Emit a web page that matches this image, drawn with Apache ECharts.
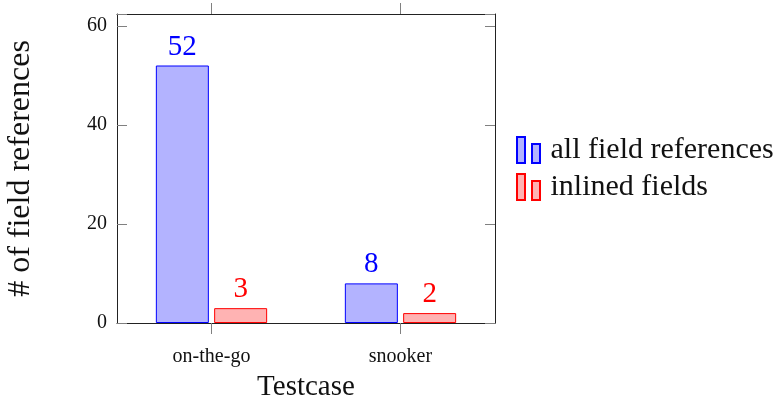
<!DOCTYPE html>
<html>
<head>
<meta charset="utf-8">
<script src="https://cdn.jsdelivr.net/npm/echarts@6/dist/echarts.min.js"></script>
<style>
html,body{margin:0;padding:0;background:#fff;}
#chart{width:779px;height:400px;}
</style>
</head>
<body>
<div id="chart"></div>
<script>
var categories = ['on-the-go', 'snooker'];
var allFieldRefs = [52, 8];
var inlinedFields = [3, 2];
var seriesNames = ['all field references', 'inlined fields'];
var yTicks = [0, 20, 40, 60];

var FONT = '"Liberation Serif", "Times New Roman", serif';
var legendIcon = 'path://M0,0h8v26h-8zM15,7h8v19h-8z';

var chart = echarts.init(document.getElementById('chart'), null, {renderer: 'canvas'});

var xCommon = {
  type: 'category',
  data: categories,
  axisLine: {show: true, onZero: false, lineStyle: {color: '#222', width: 1}},
  axisTick: {show: true, inside: false, length: 11, alignWithLabel: true, lineStyle: {color: '#808080'}},
  splitLine: {show: false}
};
var yCommon = {
  type: 'value',
  min: 0,
  max: 62.4,
  interval: 20,
  axisLine: {show: true, onZero: false, lineStyle: {color: '#222', width: 1}},
  axisTick: {show: true, inside: true, length: 10, lineStyle: {color: '#808080'}},
  splitLine: {show: false}
};

var option = {
  animation: false,
  backgroundColor: '#fff',
  textStyle: {fontFamily: FONT},
  grid: {left: 117, right: 284, top: 14, bottom: 77, show: false, containLabel: false, outerBoundsMode: 'none'},
  legend: {
    orient: 'vertical',
    left: 511,
    top: 130,
    itemWidth: 24,
    itemHeight: 26,
    itemGap: 7,
    icon: legendIcon,
    textStyle: {fontFamily: FONT, fontSize: 30, color: '#111', padding: [0, 0, 0, 5]},
    data: seriesNames
  },
  xAxis: [
    Object.assign({}, xCommon, {
      position: 'bottom',
      name: 'Testcase',
      nameLocation: 'middle',
      nameGap: 50,
      nameTextStyle: {fontFamily: FONT, fontSize: 29, color: '#111'},
      axisLabel: {fontFamily: FONT, fontSize: 20, color: '#111', margin: 24}
    }),
    Object.assign({}, xCommon, {
      position: 'top',
      axisLabel: {show: false}
    })
  ],
  yAxis: [
    Object.assign({}, yCommon, {
      position: 'left',
      name: '# of field references',
      nameLocation: 'middle',
      nameGap: 80,
      nameTextStyle: {fontFamily: FONT, fontSize: 32, color: '#111'},
      axisLabel: {fontFamily: FONT, fontSize: 20, color: '#111', margin: 10,
        formatter: function (v) { return yTicks.indexOf(v) >= 0 ? String(v) : ''; }}
    }),
    Object.assign({}, yCommon, {
      position: 'right',
      axisLabel: {show: false}
    })
  ],
  series: [
    {
      name: seriesNames[0],
      type: 'bar',
      data: allFieldRefs,
      xAxisIndex: 0,
      yAxisIndex: 0,
      barWidth: 53,
      barGap: '10%',
      itemStyle: {color: '#b3b3ff', borderColor: '#0000ff', borderWidth: 1},
      label: {show: true, position: 'top', distance: 4, fontFamily: FONT, fontSize: 29, color: '#0000ff'}
    },
    {
      name: seriesNames[1],
      type: 'bar',
      data: inlinedFields,
      xAxisIndex: 0,
      yAxisIndex: 0,
      barWidth: 53,
      barGap: '10%',
      itemStyle: {color: '#ffb3b3', borderColor: '#ff0000', borderWidth: 1},
      label: {show: true, position: 'top', distance: 4, fontFamily: FONT, fontSize: 29, color: '#ff0000'}
    }
  ]
};
chart.setOption(option);
</script>
</body>
</html>
